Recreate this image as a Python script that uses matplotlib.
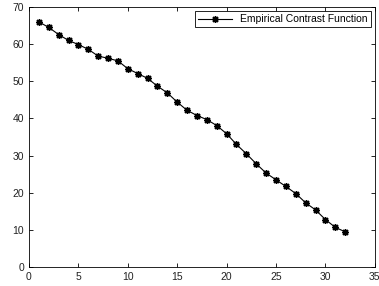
import numpy as np
import matplotlib
matplotlib.use('Agg')
import matplotlib.pyplot as plt

plt.rcParams['font.family'] = ['Liberation Sans', 'DejaVu Sans']

# values
x = list(range(1, 33))
contrast = [66.0, 64.5, 62.6, 61.0, 59.9, 58.6, 56.8, 56.2, 55.5, 53.4,
            52.1, 50.8, 48.7, 46.9, 44.4, 42.2, 40.8, 39.7, 38.1, 35.9,
            33.0, 30.5, 27.8, 25.3, 23.5, 21.7, 19.8, 17.3, 15.4, 12.8,
            10.7, 9.5]
xticks = [0, 5, 10, 15, 20, 25, 30, 35]
yticks = [0, 10, 20, 30, 40, 50, 60, 70]

fig = plt.figure(figsize=(3.79, 2.86), dpi=100)
ax = fig.add_axes([0.0765, 0.066, 0.9125, 0.9095])
ax.plot(x, contrast, color='black', lw=0.8, marker=(8, 2, 0), ms=5,
        mew=1.0, label='Empirical Contrast Function')
ax.set_xlim(0, 35)
ax.set_ylim(0, 70)
ax.set_xticks(xticks)
ax.set_yticks(yticks)
ax.tick_params(direction='in', top=True, right=True, length=3, width=0.6,
               labelsize=7.5, colors='black', labelcolor='#222222')
for s in ax.spines.values():
    s.set_linewidth(0.6)
leg = ax.legend(loc='upper right', fontsize=7.5, fancybox=False,
                framealpha=1, edgecolor='black', borderpad=0.3,
                handlelength=3.2, borderaxespad=0.4)
leg.get_frame().set_linewidth(0.6)
fig.savefig('out.png', dpi=100)
